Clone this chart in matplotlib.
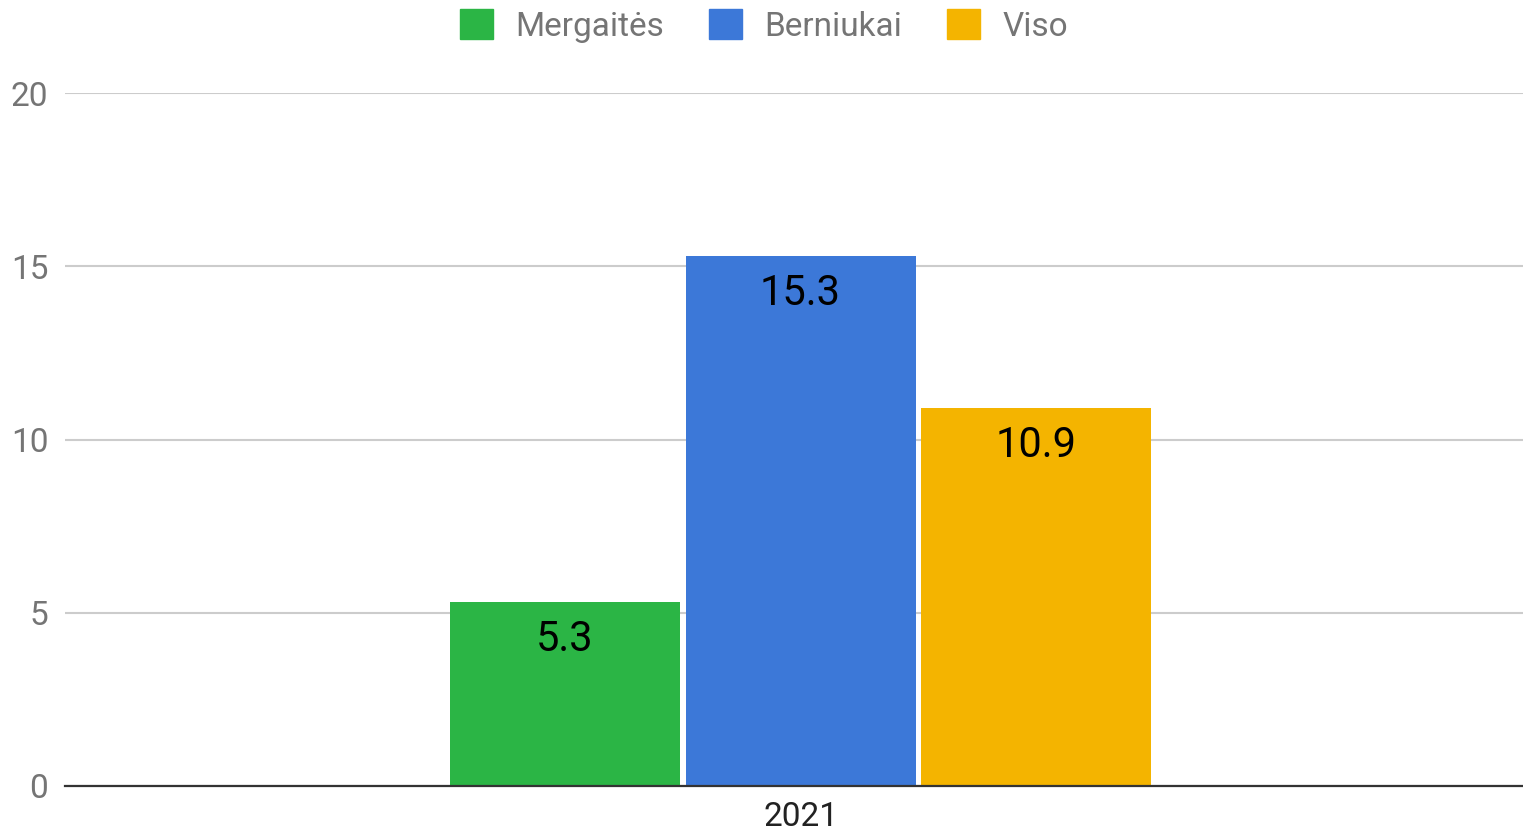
import matplotlib
matplotlib.use("Agg")
import matplotlib.pyplot as plt
from matplotlib.patches import Patch

categories = ["2021"]
series_names = ["Mergaitės", "Berniukai", "Viso"]
series_values = [[5.3], [15.3], [10.9]]
colors = ["#2bb545", "#3c78d8", "#f4b400"]
yticks = [0, 5, 10, 15, 20]

plt.rcParams['font.family'] = ['Roboto', 'DejaVu Sans']

fig = plt.figure(figsize=(15.23, 8.32), dpi=100)
ax = fig.add_axes([65/1523, 46/832, 1458/1523, 693/832])

width = 230/1458
step = 235.5/1458
for i, (name, vals, c) in enumerate(zip(series_names, series_values, colors)):
    xs = [j + (i - 1) * step for j in range(len(categories))]
    ax.bar(xs, vals, width=width, color=c, label=name, zorder=3)
    for x, v in zip(xs, vals):
        ax.annotate(f"{v}", xy=(x, v), xytext=(0, -12), textcoords='offset points',
                    ha='center', va='top', fontsize=30, color='#000000', zorder=4)

ax.set_xlim(-0.5045, 0.4955)
ax.set_ylim(0, 20)
ax.set_yticks(yticks)
ax.set_yticklabels([str(t) for t in yticks])
ax.set_xticks(range(len(categories)))
ax.set_xticklabels(categories)
ax.tick_params(axis='y', length=0, pad=12, labelsize=24, labelcolor='#757575')
ax.tick_params(axis='x', length=0, pad=11, labelsize=24, labelcolor='#222222')
ax.yaxis.grid(True, color='#cccccc', linewidth=1.5, zorder=0)
ax.set_axisbelow(True)
for s in ['top', 'right', 'left']:
    ax.spines[s].set_visible(False)
ax.spines['bottom'].set_color('#333333')
ax.spines['bottom'].set_linewidth(1.6)
ax.spines['bottom'].set_zorder(5)

handles = [Patch(facecolor=c, edgecolor=c, label=n) for n, c in zip(series_names, colors)]
fig.legend(handles=handles, loc='center', bbox_to_anchor=(764/1523, 1 - 26/832), ncol=3,
           frameon=False, fontsize=24, handlelength=0.98, handleheight=0.98,
           handletextpad=0.68, columnspacing=1.35, labelcolor='#757575')

fig.savefig("out.png", dpi=100)
